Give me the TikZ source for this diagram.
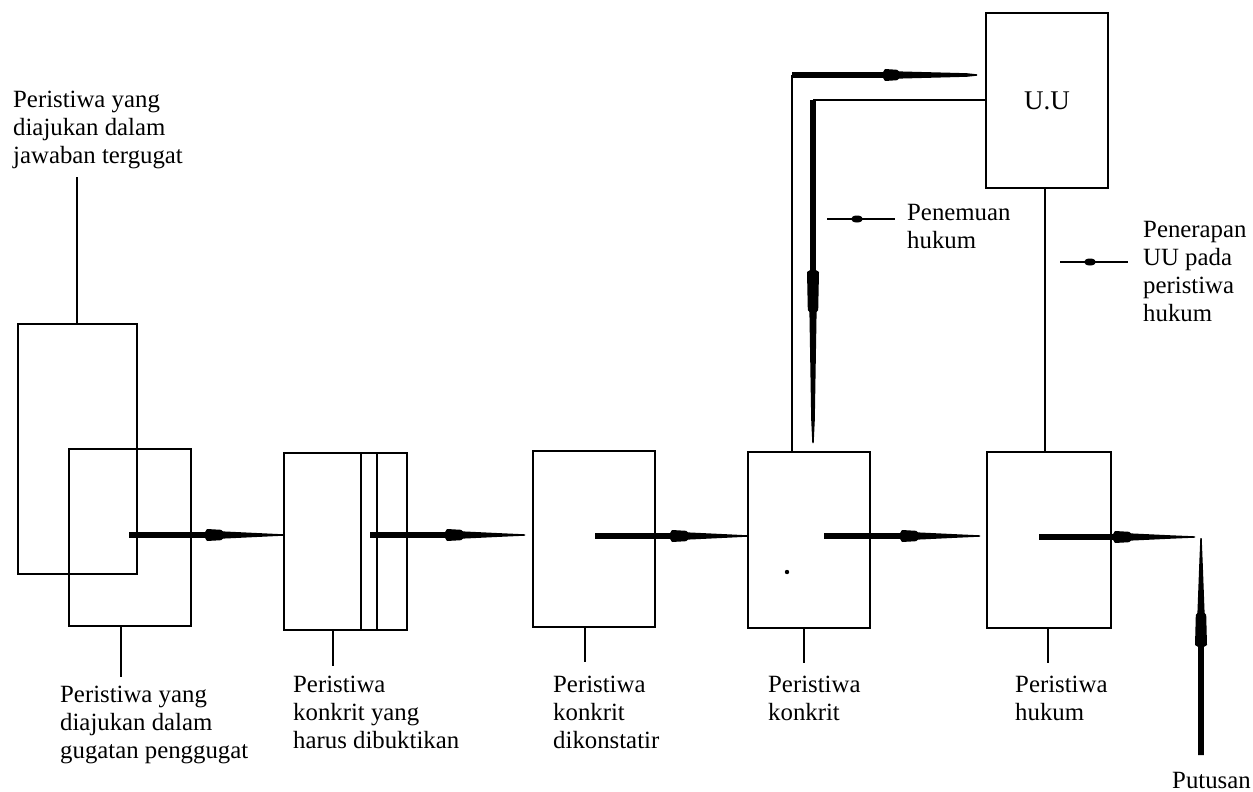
\documentclass[tikz,border=0pt]{standalone}
\usepackage{fontspec}
\setmainfont{Liberation Serif}
\begin{document}
\begin{tikzpicture}[x=1pt,y=-1pt,
  box/.style={draw,line width=1.5pt,inner sep=0pt,outer sep=0pt},
  stub/.style={line width=2pt},
  thin/.style={line width=1.5pt},
  lbl/.style={anchor=base west,inner sep=0pt,align=left,font=\fontsize{24.8}{28}\selectfont},
  pics/tarrow/.style n args={4}{code={
    % #1 length, #2 bulge start, #3 bulge length, #4 taper length
    \fill (0,2.8) -- (#2,2.8) -- (#2+2,6) -- (#2+#3,5.2) -- (#2+#3+2,3.6) -- (#2+#3+#4,1.8) -- (#1,0.7)
      -- (#1,-0.7) -- (#2+#3+#4,-1.8) -- (#2+#3+2,-3.6) -- (#2+#3,-5.2) -- (#2+2,-6) -- (#2,-2.8) -- (0,-2.8) -- cycle;
  }}
]
\useasboundingbox[fill=white] (0,0) rectangle (1253,792);

% boxes
\node[box,minimum width=119pt,minimum height=250pt] (A) at (77.5,449) {};
\node[box,minimum width=122pt,minimum height=177pt] (B) at (130,537.5) {};
\node[box,minimum width=123pt,minimum height=177pt] (C) at (345.5,541.5) {};
\draw[thin] (361,453) -- (361,630) (377,453) -- (377,630);
\node[box,minimum width=122pt,minimum height=176pt] (D) at (594,539) {};
\node[box,minimum width=122pt,minimum height=176pt] (E) at (809,540) {};
\node[box,minimum width=124pt,minimum height=176pt] (F) at (1049,540) {};
\node[box,minimum width=122pt,minimum height=175pt,font=\fontsize{27}{30}\selectfont] (UU) at (1047,100.5) {U.U};

% labels (base anchor = baseline of last line)
\node[lbl] (tl) at (13,163) {Peristiwa yang\\diajukan dalam\\jawaban tergugat};
\node[lbl] (lb) at (60,758) {Peristiwa yang\\diajukan dalam\\gugatan penggugat};
\node[lbl] (lc) at (293,748) {Peristiwa\\konkrit yang\\harus dibuktikan};
\node[lbl] (ld) at (553,748) {Peristiwa\\konkrit\\dikonstatir};
\node[lbl] (le) at (768,720) {Peristiwa\\konkrit};
\node[lbl] (lf) at (1015,720) {Peristiwa\\hukum};
\node[lbl] (pen) at (907,248) {Penemuan\\hukum};
\node[lbl] (per) at (1143,321) {Penerapan\\UU pada\\peristiwa\\hukum};
\node[lbl] (put) at (1172,788) {Putusan};

% stubs
\coordinate (sA) at (77,177);
\draw[stub] (sA) -- (sA |- A.north);
\coordinate (sB) at (121,677);
\draw[stub] (sB |- B.south) -- (sB);
\coordinate (sC) at (333,666);
\draw[stub] (sC |- C.south) -- (sC);
\coordinate (sD) at (585,662);
\draw[stub] (sD |- D.south) -- (sD);
\coordinate (sE) at (804,663);
\draw[stub] (sE |- E.south) -- (sE);
\coordinate (sF) at (1048,663);
\draw[stub] (sF |- F.south) -- (sF);
\draw[stub] (UU.south -| 1045,0) -- (F.north -| 1045,0);

% dot
\fill (787,572) circle [radius=2.2pt];

% main arrows
\pic at (129,535) {tarrow={155}{76}{16}{40}};
\pic at (370,535) {tarrow={155}{75}{16}{40}};
\pic at (595,536) {tarrow={153}{75}{16}{40}};
\pic at (824,536) {tarrow={156}{76}{16}{40}};
\pic at (1039,537) {tarrow={156}{74}{16}{40}};
\pic[rotate=90] at (1201,755) {tarrow={217}{108}{32}{50}};

% feedback loop
\coordinate (lo) at (792,75);
\draw[stub] (E.north -| lo) -- (lo);
\pic at (lo) {tarrow={185}{91}{14}{70}};
\coordinate (li) at (813,100);
\draw[thin] (UU.west |- li) -- (li);
\pic[rotate=-90] at (li) {tarrow={343}{170}{40}{110}};

% label pointers
\draw[line width=2.8pt] (827,219) -- (895,219);
\fill (857,219) ellipse [x radius=6pt,y radius=3.5pt];
\draw[line width=2.8pt] (1060,262) -- (1128,262);
\fill (1090,262) ellipse [x radius=6pt,y radius=3.5pt];
\end{tikzpicture}
\end{document}
